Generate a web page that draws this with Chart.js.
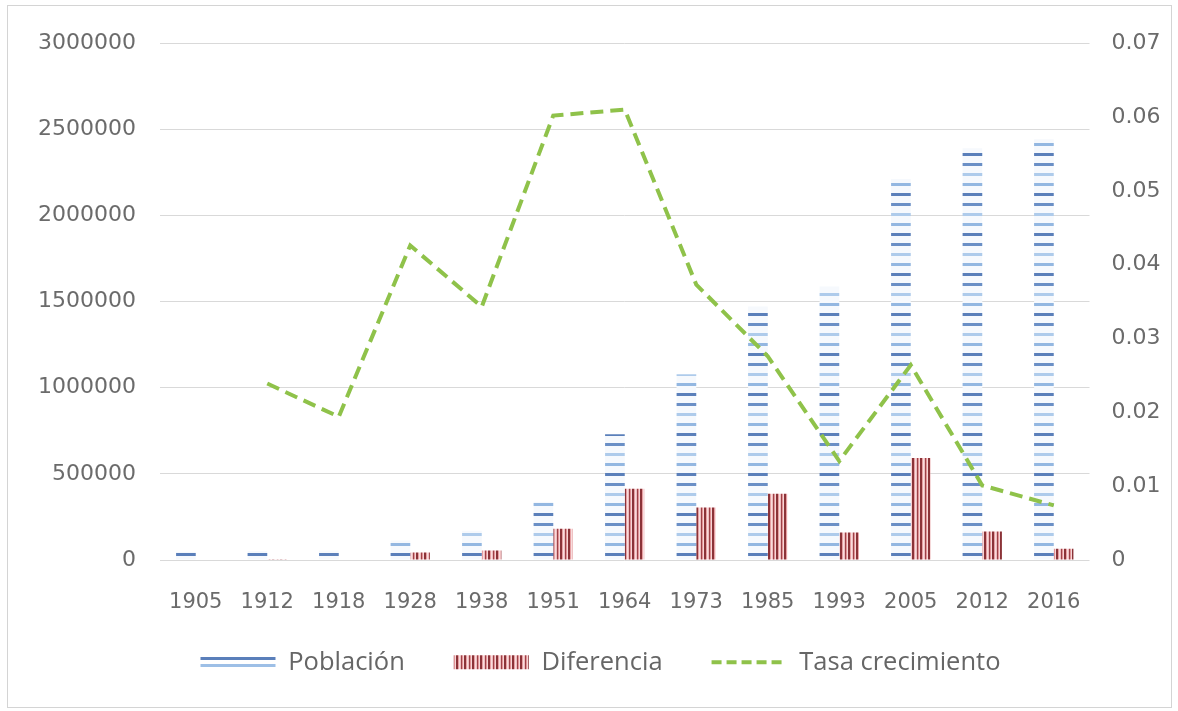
<!DOCTYPE html>
<html>
<head>
<meta charset="utf-8">
<script src="https://cdn.jsdelivr.net/npm/chart.js@4/dist/chart.umd.min.js"></script>
<style>
  html, body { margin: 0; padding: 0; background: #ffffff; }
  #frame {
    position: absolute; left: 7px; top: 5px;
    width: 1165px; height: 703px;
    box-sizing: border-box;
    border: 1px solid #d4d4d4;
    background: #ffffff;
  }
  #frame canvas { display: block; }
</style>
</head>
<body>
<div id="frame"><canvas id="chart" width="1163" height="701"></canvas></div>
<script>
// Census years and series
const years = ['1905', '1912', '1918', '1928', '1938', '1951', '1964', '1973', '1985', '1993', '2005', '2012', '2016'];
const poblacion = [48000, 52000, 55000, 113000, 170000, 338000, 730000, 1078000, 1471000, 1587000, 2211000, 2390000, 2442000];
const diferencia = [null, 4000, 3000, 43000, 55000, 182000, 413000, 305000, 384000, 159000, 592000, 165000, 66000];
const tasa = [null, 0.0239, 0.0194, 0.0426, 0.0343, 0.0602, 0.0610, 0.0373, 0.0276, 0.0134, 0.0264, 0.0101, 0.0074];

// Axis ranges
const leftMax = 3000000, leftStep = 500000;
const rightMax = 0.07, rightStep = 0.01;

// Horizontal dash fill for the population bars
function stripesH() {
  const c = document.createElement('canvas');
  c.width = 20; c.height = 40;
  const g = c.getContext('2d');
  g.fillStyle = '#f6f9fd';
  g.fillRect(0, 0, 20, 40);
  const rows = ['#aecbeb', '#93b7e1', '#5a7fba', '#6a8fc6'];
  rows.forEach((col, i) => {
    g.fillStyle = col;
    g.fillRect(0, i * 10 + 7, 20, 3);
  });
  return g.createPattern(c, 'repeat');
}

// Two-line swatch used in the legend for the population series
function legendLines() {
  const c = document.createElement('canvas');
  c.width = 4; c.height = 100;
  const g = c.getContext('2d');
  g.fillStyle = '#ffffff';
  g.fillRect(0, 0, 4, 100);
  g.fillStyle = '#5a7fba';
  g.fillRect(0, 0, 4, 3);
  g.fillStyle = '#9dbfe6';
  g.fillRect(0, 7, 4, 3);
  return g.createPattern(c, 'repeat');
}

// Vertical stripe fill for the difference bars
function stripesV() {
  const c = document.createElement('canvas');
  c.width = 8; c.height = 8;
  const g = c.getContext('2d');
  const cols = ['#8b3338', '#8b3338', '#e6a0a3', '#f8dcdd', '#eebcbe', '#9c4147', '#e29497', '#f6d6d7'];
  cols.forEach((col, i) => {
    g.fillStyle = col;
    g.fillRect(i, 0, 1, 8);
  });
  return g.createPattern(c, 'repeat');
}

const tickColor = '#6b6b6b';
const gridColor = '#d9d9d9';
const lineColor = '#8fc24a';
const legendFontSize = 25.5;
const legendPadding = 49;
const legendSwatch = legendLines();

// Moves the legend row up under the category labels, a little to the right,
// and lines up the population swatch with the row
const legendPlace = {
  id: 'legendPlace',
  afterLayout(chart) {
    const lg = chart.legend;
    if (!lg) return;
    lg.top -= 15.5; lg.bottom -= 15.5;
    lg.left += 11; lg.right += 11;
    const centerY = lg.top + legendPadding + legendFontSize / 2;
    legendSwatch.setTransform(new DOMMatrix().translate(0, Math.round(centerY - 5)));
  }
};

new Chart(document.getElementById('chart'), {
  data: {
    labels: years,
    datasets: [
      {
        type: 'bar',
        label: 'Población',
        data: poblacion,
        backgroundColor: stripesH(),
        borderWidth: 0,
        yAxisID: 'y',
        order: 1,
        categoryPercentage: 0.55,
        barPercentage: 1.0
      },
      {
        type: 'bar',
        label: 'Diferencia',
        data: diferencia,
        backgroundColor: stripesV(),
        borderWidth: 0,
        yAxisID: 'y',
        order: 1,
        categoryPercentage: 0.55,
        barPercentage: 1.0
      },
      {
        type: 'line',
        label: 'Tasa crecimiento',
        data: tasa,
        borderColor: lineColor,
        backgroundColor: lineColor,
        borderWidth: 4,
        borderDash: [13, 7],
        pointRadius: 0,
        tension: 0,
        fill: false,
        yAxisID: 'y1',
        order: 0
      }
    ]
  },
  plugins: [legendPlace],
  options: {
    responsive: false,
    animation: false,
    layout: { padding: { top: 36, right: 0, bottom: 6.5, left: 0 } },
    scales: {
      x: {
        grid: { display: false, drawTicks: false },
        border: { display: false },
        ticks: {
          color: tickColor,
          padding: 30,
          font: { family: 'DejaVu Sans', size: 21 },
          maxRotation: 0
        },
        afterFit(s) { s.height = 56; }
      },
      y: {
        position: 'left',
        min: 0,
        max: leftMax,
        grid: { color: gridColor, lineWidth: 1, drawTicks: false },
        border: { display: false },
        ticks: {
          stepSize: leftStep,
          color: tickColor,
          padding: 24,
          font: { family: 'DejaVu Sans', size: 22 },
          callback: v => String(v)
        },
        afterFit(s) { s.width = 152; }
      },
      y1: {
        position: 'right',
        min: 0,
        max: rightMax,
        grid: { display: false, drawTicks: false },
        border: { display: false },
        ticks: {
          stepSize: rightStep,
          color: tickColor,
          padding: 22,
          font: { family: 'DejaVu Sans', size: 22 },
          callback: v => String(Number(v.toFixed(2)))
        },
        afterFit(s) { s.width = 81.5; }
      }
    },
    plugins: {
      tooltip: { enabled: false },
      legend: {
        position: 'bottom',
        labels: {
          color: '#666666',
          font: { family: 'Open Sans', size: legendFontSize },
          usePointStyle: true,
          pointStyleWidth: 75,
          boxHeight: 14,
          padding: legendPadding,
          sort: (a, b) => a.datasetIndex - b.datasetIndex,
          generateLabels(chart) {
            const items = Chart.defaults.plugins.legend.labels.generateLabels(chart);
            items.forEach(it => {
              if (it.datasetIndex === 2) {
                it.pointStyle = 'line';
                it.lineDash = [10, 5];
                it.lineWidth = 4;
                it.strokeStyle = lineColor;
              } else {
                it.pointStyle = 'rect';
                it.lineWidth = 0;
                if (it.datasetIndex === 0) it.fillStyle = legendSwatch;
              }
            });
            return items;
          }
        }
      }
    }
  }
});
</script>
</body>
</html>
